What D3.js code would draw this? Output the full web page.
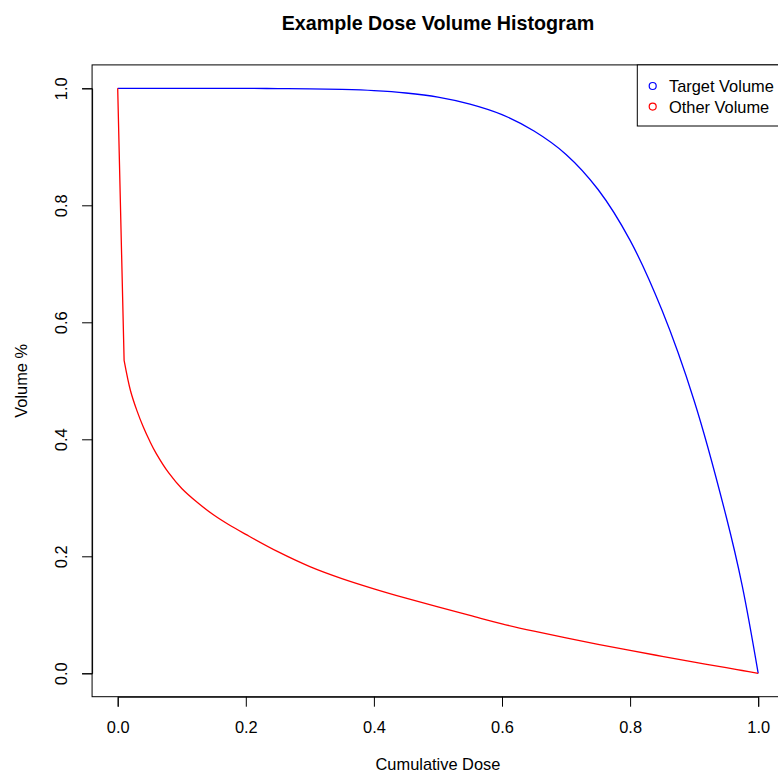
<!DOCTYPE html>
<html>
<head>
<meta charset="utf-8">
<script src="https://cdn.jsdelivr.net/npm/d3@7"></script>
<style>
  html, body { margin: 0; padding: 0; background: #fff; }
  svg { display: block; font-family: "Liberation Sans", Arial, Helvetica, sans-serif; }
</style>
</head>
<body>
<svg id="chart" width="778" height="773"></svg>
<script>
// Cumulative dose (fraction of prescription) at which each volume is sampled
const dose = [0, 0.01, 0.02, 0.03, 0.04, 0.05, 0.06, 0.08, 0.10, 0.125, 0.15, 0.175, 0.20, 0.25,
              0.30, 0.35, 0.40, 0.45, 0.50, 0.55, 0.60, 0.65, 0.70, 0.75, 0.80, 0.85,
              0.90, 0.95, 0.975, 1.0];

// Fraction of the target volume receiving at least the given dose
const targetVolume = [1.0, 1.0, 1.0, 1.0, 1.0, 1.0, 1.0, 1.0, 1.0, 1.0, 1.0, 1.0, 1.0, 0.9995,
                      0.999, 0.998, 0.996, 0.992, 0.985, 0.973, 0.955, 0.927, 0.887, 0.827, 0.740, 0.620,
                      0.466, 0.268, 0.150, 0.0];

// Fraction of the other (normal tissue) volume receiving at least the given dose
const otherVolume = [1.0, 0.535, 0.483, 0.449, 0.421, 0.397, 0.376, 0.342, 0.316, 0.2915, 0.2705, 0.2530, 0.2375, 0.2080,
                     0.1825, 0.1620, 0.1445, 0.1285, 0.1135, 0.0990, 0.0845, 0.0720, 0.0605, 0.0495, 0.0390, 0.0290,
                     0.0192, 0.0096, 0.0048, 0.0];

const xTicks = [0, 0.2, 0.4, 0.6, 0.8, 1.0];
const yTicks = [0, 0.2, 0.4, 0.6, 0.8, 1.0];

// `straightUntil`: index up to which the trace is drawn with straight segments
const series = [
  { name: "Target Volume", values: targetVolume, color: "#0000FF", straightUntil: 0 },
  { name: "Other Volume",  values: otherVolume,  color: "#FF0000", straightUntil: 1 }
];

(function draw() {
  const svg = d3.select("#chart");
  const fmt = d3.format(".1f");
  const baseFont = 16.4, titleFont = 19.7;

  // Data range padded by 4% on each side, as in a classic base-graphics plot
  const x = d3.scaleLinear().domain([0, 1]).range([117.7, 758.2]);
  const y = d3.scaleLinear().domain([0, 1]).range([673.3, 88.3]);

  const frameLeft = x(-0.04), frameRight = x(1.04);
  const frameTop = y(1.04), frameBottom = y(-0.04);

  // Curves: an optional straight lead-in followed by a smooth trace
  const smooth = d3.line()
    .x(d => x(d[0]))
    .y(d => y(d[1]))
    .curve(d3.curveCatmullRom.alpha(0.5));

  function tracePath(s) {
    const pts = dose.map((d, i) => [d, s.values[i]]);
    const head = pts.slice(0, s.straightUntil + 1);
    const tail = pts.slice(s.straightUntil);
    const lead = head.map((p, i) => (i ? "L" : "M") + x(p[0]) + "," + y(p[1])).join("");
    return lead + "L" + smooth(tail).slice(1);
  }

  svg.append("g").selectAll("path")
    .data(series)
    .join("path")
    .attr("d", tracePath)
    .attr("fill", "none")
    .attr("stroke", s => s.color)
    .attr("stroke-width", 1.3)
    .attr("stroke-linejoin", "round");

  // Plot frame
  svg.append("rect")
    .attr("x", frameLeft).attr("y", frameTop)
    .attr("width", frameRight - frameLeft).attr("height", frameBottom - frameTop)
    .attr("fill", "none").attr("stroke", "#000").attr("stroke-width", 1);

  // X axis
  const gx = svg.append("g")
    .attr("transform", `translate(0,${frameBottom})`)
    .call(d3.axisBottom(x).tickValues(xTicks).tickFormat(fmt).tickSize(10).tickPadding(14.3));
  gx.selectAll("text").attr("font-size", baseFont).attr("fill", "#000");
  gx.selectAll("line, path").attr("stroke", "#000");
  gx.attr("font-family", null);

  // Y axis with labels turned parallel to the axis
  const gy = svg.append("g")
    .attr("transform", `translate(${frameLeft},0)`)
    .call(d3.axisLeft(y).tickValues(yTicks).tickFormat(fmt).tickSize(10));
  gy.selectAll("text")
    .attr("x", null).attr("dy", null)
    .attr("text-anchor", "middle")
    .attr("dominant-baseline", "central")
    .attr("transform", "translate(-31,0) rotate(-90)")
    .attr("font-size", baseFont).attr("fill", "#000");
  gy.selectAll("line, path").attr("stroke", "#000");
  gy.attr("font-family", null);

  // Title and axis titles
  const midX = (frameLeft + frameRight) / 2;
  svg.append("text")
    .attr("x", midX).attr("y", 30)
    .attr("text-anchor", "middle")
    .attr("font-size", titleFont).attr("font-weight", "bold")
    .text("Example Dose Volume Histogram");

  svg.append("text")
    .attr("x", midX).attr("y", 770)
    .attr("text-anchor", "middle")
    .attr("font-size", baseFont)
    .text("Cumulative Dose");

  svg.append("text")
    .attr("transform", `translate(21,${(frameTop + frameBottom) / 2}) rotate(-90)`)
    .attr("text-anchor", "middle")
    .attr("dominant-baseline", "central")
    .attr("font-size", baseFont)
    .text("Volume %");

  // Legend in the top-right corner of the plot frame
  const legendLeft = 637.3, legendBottom = 126;
  svg.append("rect")
    .attr("x", legendLeft).attr("y", frameTop)
    .attr("width", frameRight - legendLeft).attr("height", legendBottom - frameTop)
    .attr("fill", "#fff").attr("stroke", "#000").attr("stroke-width", 1);

  const entries = svg.append("g").selectAll("g")
    .data(series)
    .join("g")
    .attr("transform", (d, i) => `translate(${legendLeft},${86 + i * 20.6})`);
  entries.append("circle")
    .attr("cx", 15.4).attr("cy", 0).attr("r", 3.5)
    .attr("fill", "none").attr("stroke", d => d.color).attr("stroke-width", 1.2);
  entries.append("text")
    .attr("x", 31.7).attr("y", 0)
    .attr("dominant-baseline", "central")
    .attr("font-size", baseFont)
    .text(d => d.name);
})();
</script>
</body>
</html>
